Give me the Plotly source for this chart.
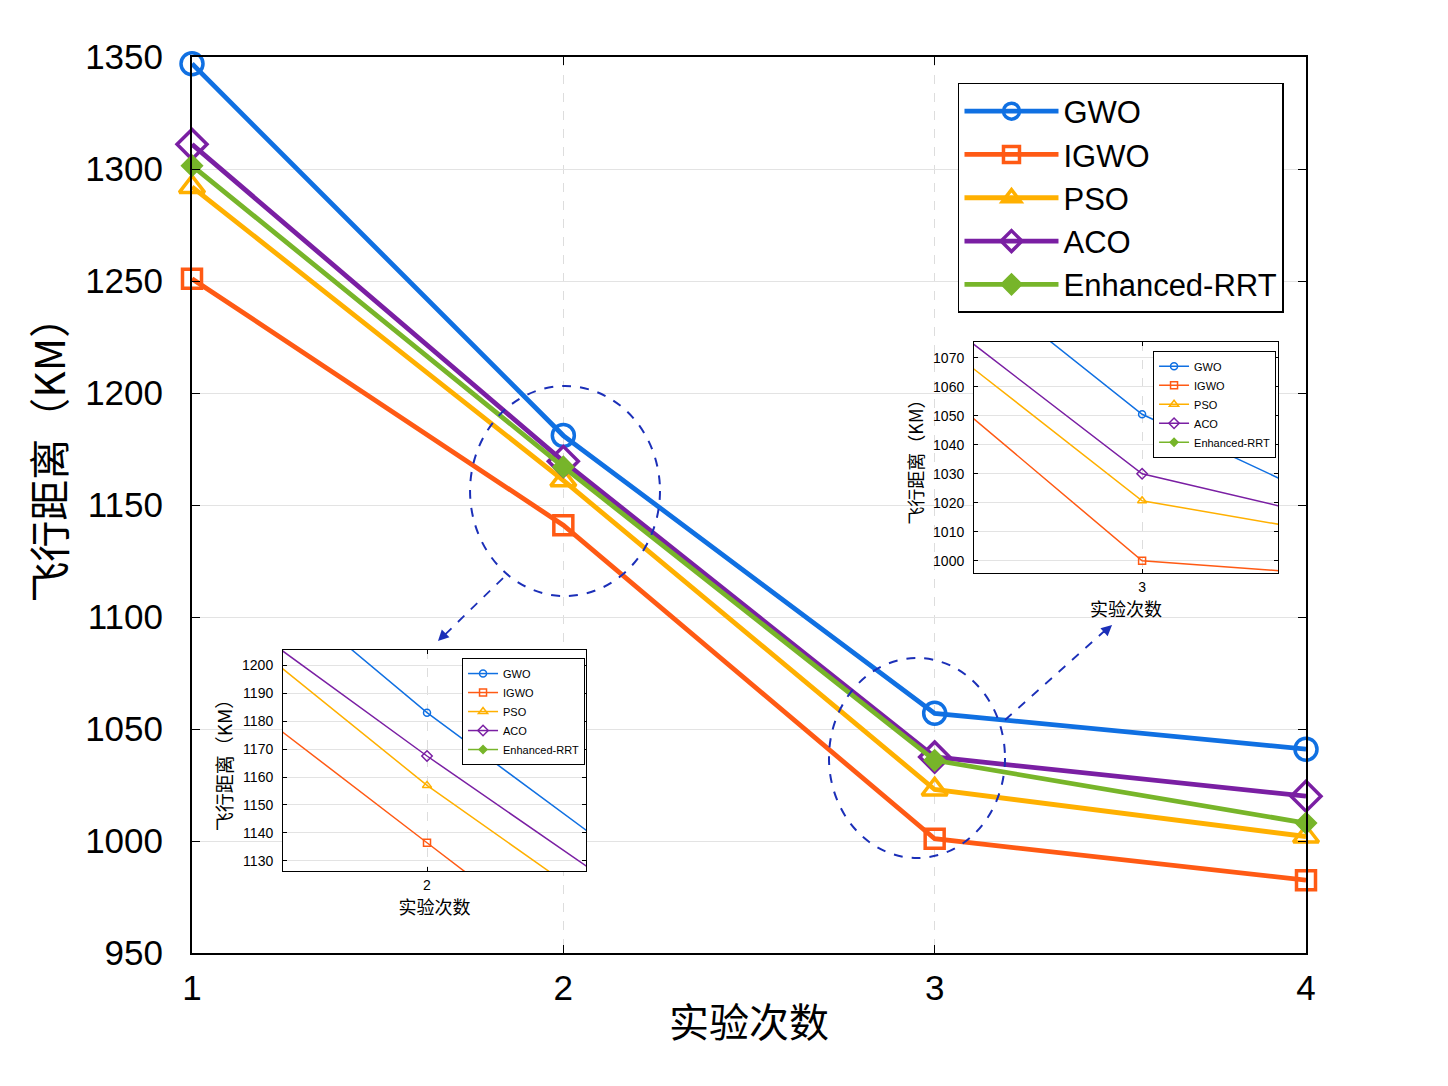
import plotly.graph_objects as go

# ---------------- data ----------------
runs = [1, 2, 3, 4]
series_names = ["GWO", "IGWO", "PSO", "ACO", "Enhanced-RRT"]
gwo = [1347, 1181, 1057, 1041]
igwo = [1251, 1141, 1001, 982.5]
pso = [1292, 1161, 1023, 1002]
aco = [1311, 1169.5, 1037.5, 1020]
rrt = [1301.5, 1167, 1036, 1008]

# inset 1 (around run 2)
inset1_runs = [1, 2, 3]
inset1_gwo = [1332.5, 1183, 1051]
inset1_igwo = [1273.5, 1136.5, 1000]
inset1_pso = [1301.5, 1157, 1031]
inset1_aco = [1297.5, 1167.5, 1044]
inset1_rrt = [None, None, None]

# inset 2 (around run 3)
inset2_runs = [2, 3, 4]
inset2_gwo = [1160, 1050.5, 986]
inset2_igwo = [1116.4, 1000, 990]
inset2_pso = [1128.7, 1020.7, 996.9]
inset2_aco = [1136, 1030, 997.6]
inset2_rrt = [None, None, None]

y_ticks_main = [950, 1000, 1050, 1100, 1150, 1200, 1250, 1300, 1350]
x_ticks_main = [1, 2, 3, 4]
inset1_yticks = [1130, 1140, 1150, 1160, 1170, 1180, 1190, 1200]
inset2_yticks = [1000, 1010, 1020, 1030, 1040, 1050, 1060, 1070]

colors = ["#1070E2", "#FF5A14", "#FFB000", "#7A1FA3", "#77B52A"]
symbols = ["circle-open", "square-open", "triangle-up-open", "diamond-open", "diamond"]
main_sizes = [22, 19, 22, 23, 14]

FONT = "Arial, Liberation Sans, Noto Sans CJK SC, sans-serif"
CJK = "Noto Sans CJK SC, Arial, sans-serif"

fig = go.Figure()

main_data = [gwo, igwo, pso, aco, rrt]
for name, ys, c, s, sz in zip(series_names, main_data, colors, symbols, main_sizes):
    fig.add_trace(go.Scatter(
        x=runs, y=ys, name=name, mode="lines+markers",
        line=dict(color=c, width=4.8),
        marker=dict(symbol=s, size=sz, color=c, line=dict(color=c, width=3.5)),
        cliponaxis=False, xaxis="x", yaxis="y", legend="legend",
    ))

inset1_data = [inset1_gwo, inset1_igwo, inset1_pso, inset1_aco, inset1_rrt]
inset2_data = [inset2_gwo, inset2_igwo, inset2_pso, inset2_aco, inset2_rrt]
inset_sizes = [7, 7, 8, 8, 6]
for name, ys, c, s, sz in zip(series_names, inset1_data, colors, symbols, inset_sizes):
    fig.add_trace(go.Scatter(
        x=inset1_runs, y=ys, name=name, mode="lines+markers",
        line=dict(color=c, width=1.5),
        marker=dict(symbol=s, size=sz, color=c, line=dict(color=c, width=1.5)),
        xaxis="x2", yaxis="y2", legend="legend2",
    ))
for name, ys, c, s, sz in zip(series_names, inset2_data, colors, symbols, inset_sizes):
    fig.add_trace(go.Scatter(
        x=inset2_runs, y=ys, name=name, mode="lines+markers",
        line=dict(color=c, width=1.5),
        marker=dict(symbol=s, size=sz, color=c, line=dict(color=c, width=1.5)),
        xaxis="x3", yaxis="y3", legend="legend3",
    ))

axis_common = dict(showline=True, linecolor="black", mirror="ticks", ticks="inside",
                   tickcolor="black", zeroline=False)

fig.update_layout(
    width=1448, height=1086,
    margin=dict(l=192, r=142, t=57, b=133),
    paper_bgcolor="white", plot_bgcolor="white",
    font=dict(family=FONT, color="black"),
    xaxis=dict(domain=[0, 1], range=[1, 4], tickvals=x_ticks_main, **axis_common,
               linewidth=2, ticklen=8, showgrid=True, gridcolor="#DDDDDD", griddash="dash",
               gridwidth=1, tickfont=dict(size=35, family=FONT), ticklabelstandoff=3,
               title=dict(text="实验次数", font=dict(size=40, family=CJK), standoff=3)),
    yaxis=dict(domain=[0, 1], range=[950, 1350], tickvals=y_ticks_main, **axis_common,
               linewidth=2, ticklen=8, showgrid=True, gridcolor="#E3E3E3", gridwidth=1,
               tickfont=dict(size=35, family=FONT), ticklabelstandoff=20),
    xaxis2=dict(domain=[0.0817, 0.3537], range=[1.712, 2.318], tickvals=[2], anchor="y2",
                **axis_common, linewidth=1, ticklen=4, showgrid=True, gridcolor="#DDDDDD",
                griddash="dash", tickfont=dict(size=14, family=FONT), ticklabelstandoff=1,
                title=dict(text="实验次数", font=dict(size=18, family=CJK), standoff=0)),
    yaxis2=dict(domain=[0.0915, 0.3382], range=[1126.4, 1205.4], tickvals=inset1_yticks,
                anchor="x2", **axis_common, linewidth=1, ticklen=4, showgrid=True,
                gridcolor="#E3E3E3", tickfont=dict(size=14, family=FONT), ticklabelstandoff=6,
                title=dict(text="飞行距离（KM）", font=dict(size=19, family=CJK), standoff=4)),
    xaxis3=dict(domain=[0.702, 0.975], range=[2.58, 3.34], tickvals=[3], anchor="y3",
                **axis_common, linewidth=1, ticklen=4, showgrid=True, gridcolor="#DDDDDD",
                griddash="dash", tickfont=dict(size=14, family=FONT), ticklabelstandoff=1,
                title=dict(text="实验次数", font=dict(size=18, family=CJK), standoff=0)),
    yaxis3=dict(domain=[0.4241, 0.6819], range=[995.8, 1075.4], tickvals=inset2_yticks,
                anchor="x3", **axis_common, linewidth=1, ticklen=4, showgrid=True,
                gridcolor="#E3E3E3", tickfont=dict(size=14, family=FONT), ticklabelstandoff=6,
                title=dict(text="飞行距离（KM）", font=dict(size=18, family=CJK), standoff=4)),
    legend=dict(x=0.6876, y=0.971, xanchor="left", yanchor="top", bgcolor="white",
                bordercolor="black", borderwidth=1.5, font=dict(size=31, family=FONT),
                itemwidth=94, tracegroupgap=0),
    legend2=dict(x=0.2424, y=0.3292, xanchor="left", yanchor="top", bgcolor="white",
                 bordercolor="black", borderwidth=1, font=dict(size=11, family=FONT),
                 itemwidth=30),
    legend3=dict(x=0.8627, y=0.6722, xanchor="left", yanchor="top", bgcolor="white",
                 bordercolor="black", borderwidth=1, font=dict(size=11, family=FONT),
                 itemwidth=30),
)

# main y-axis title (placed as rotated text to match the reference position)
fig.add_annotation(xref="paper", yref="paper", x=-0.13, y=0.562, text="飞行距离（KM）",
                   textangle=-90, showarrow=False, xanchor="center", yanchor="middle",
                   font=dict(size=41, family=CJK, color="black"))

shapes = []
# white backgrounds for insets (drawn in the inset subplot layer, above main traces)
for xr, yr in (("x2 domain", "y2 domain"), ("x3 domain", "y3 domain")):
    shapes.append(dict(type="rect", xref=xr, yref=yr, x0=0, x1=1, y0=0, y1=1,
                       fillcolor="white", line=dict(width=0), layer="below"))
# dashed ellipses
ell_color = "#1B2FB8"
shapes.append(dict(type="circle", xref="paper", yref="paper", x0=0.2496, x1=0.4201,
                   y0=0.3984, y1=0.6328, line=dict(color=ell_color, width=2, dash="dash")))
shapes.append(dict(type="circle", xref="paper", yref="paper", x0=0.5718, x1=0.7298,
                   y0=0.1060, y1=0.3292, line=dict(color=ell_color, width=2, dash="dash")))
# dashed arrow shafts
shapes.append(dict(type="line", xref="paper", yref="paper", x0=0.2792, y0=0.4185,
                   x1=0.2240, y1=0.3516, line=dict(color=ell_color, width=1.8, dash="dash")))
shapes.append(dict(type="line", xref="paper", yref="paper", x0=0.7298, y0=0.2600,
                   x1=0.8205, y1=0.3610, line=dict(color=ell_color, width=1.8, dash="dash")))
fig.update_layout(shapes=shapes)

# arrow heads
fig.add_annotation(xref="paper", yref="paper", x=0.2208, y=0.3482, ax=9, ay=-9,
                   showarrow=True, arrowhead=2, arrowsize=1.2, arrowwidth=1.8,
                   arrowcolor=ell_color, text="")
fig.add_annotation(xref="paper", yref="paper", x=0.8259, y=0.3661, ax=-10, ay=9,
                   showarrow=True, arrowhead=2, arrowsize=1.2, arrowwidth=1.8,
                   arrowcolor=ell_color, text="")

fig.write_html("out.html")
